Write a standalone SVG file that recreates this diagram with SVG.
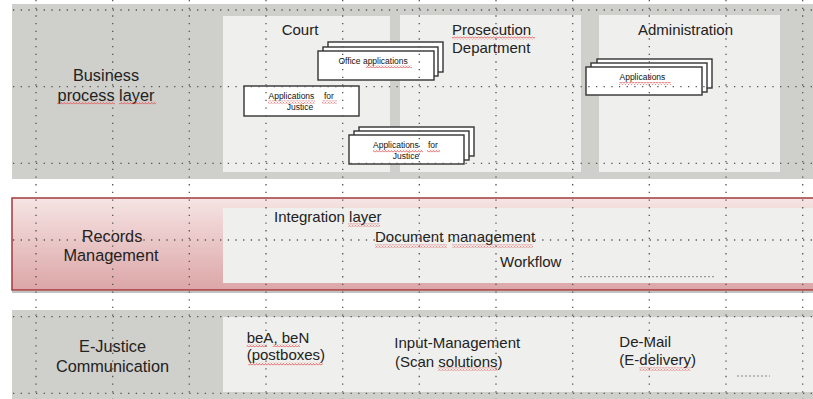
<svg xmlns="http://www.w3.org/2000/svg" width="813" height="399" viewBox="0 0 813 399">
<style>
.band{fill:#cfcfcb}
.panel{fill:#efefed}
.lbl{font-family:"Liberation Sans",Arial,sans-serif;font-size:16.3px;fill:#222;text-anchor:middle}
.t{font-family:"Liberation Sans",Arial,sans-serif;font-size:15px;fill:#222}
.s{font-family:"Liberation Sans",Arial,sans-serif;font-size:8.5px;fill:#111}
.box{fill:#fff;stroke:#333;stroke-width:1.4}
.grid{stroke:#555;stroke-width:1.3;stroke-dasharray:1.3 6.37;fill:none}
.wavy{fill:url(#wv)}
.dots{stroke:#888;stroke-width:1;stroke-dasharray:2 2;fill:none}
</style>
<defs>
<pattern id="wv" width="3" height="3" patternUnits="userSpaceOnUse">
<path d="M0 2.5 L1.5 0.5 L3 2.5" stroke="#e04848" stroke-width="0.8" fill="none"/>
</pattern>
<linearGradient id="redg" x1="0" y1="0" x2="0" y2="1">
<stop offset="0" stop-color="#f6e4e4"/>
<stop offset="1" stop-color="#dca6a7"/>
</linearGradient>
</defs>
<rect width="813" height="399" fill="#fff"/>

<g id="business-layer">
<rect class="band" x="12" y="4" width="801" height="175"/>
<text class="lbl" x="106" y="81">Business</text>
<text class="lbl" x="106" y="101">process layer</text>
<rect class="wavy" x="57" y="101.5" width="58" height="3"/>
<rect class="wavy" x="119" y="101.5" width="37" height="3"/>
</g>

<g id="court">
<rect class="panel" x="223" y="16" width="167" height="156"/>
<text class="t" x="300" y="35" text-anchor="middle">Court</text>
</g>

<g id="prosecution">
<rect class="panel" x="400" y="15" width="181" height="157"/>
<text class="t" x="452" y="35">Prosecution</text>
<text class="t" x="452" y="53">Department</text>
<rect class="wavy" x="452" y="36.5" width="83" height="3"/>
</g>

<g id="administration">
<rect class="panel" x="599" y="15" width="181" height="157"/>
<text class="t" x="685.5" y="35" text-anchor="middle">Administration</text>
</g>

<g id="office-applications">
<rect class="box" x="328" y="42" width="115" height="30"/>
<rect class="box" x="323" y="47" width="115" height="29"/>
<rect class="box" x="318" y="51" width="116" height="29"/>
<text class="s" x="338.5" y="64">Office applications</text>
<rect class="wavy" x="366" y="65" width="46" height="3"/>
</g>

<g id="applications-for-justice-1">
<rect class="box" x="244" y="86" width="115" height="30"/>
<text class="s" x="268.5" y="99">Applications</text>
<text class="s" x="324" y="99">for</text>
<text class="s" x="300" y="109.7" text-anchor="middle">Justice</text>
<rect class="wavy" x="268" y="100.5" width="47" height="3"/>
<rect class="wavy" x="322" y="100.5" width="15" height="3"/>
</g>

<g id="applications-for-justice-2">
<rect class="box" x="359" y="127" width="115" height="29"/>
<rect class="box" x="354" y="131" width="115" height="29"/>
<rect class="box" x="349" y="135" width="115" height="29"/>
<text class="s" x="373" y="148">Applications</text>
<text class="s" x="428" y="148">for</text>
<text class="s" x="406" y="158.7" text-anchor="middle">Justice</text>
<rect class="wavy" x="373" y="149.5" width="50" height="3"/>
<rect class="wavy" x="427" y="149.5" width="13" height="3"/>
</g>

<g id="admin-applications">
<rect class="box" x="597" y="59" width="115" height="29"/>
<rect class="box" x="591" y="63" width="116" height="29"/>
<rect class="box" x="586" y="67" width="116" height="28"/>
<text class="s" x="619.5" y="80">Applications</text>
<rect class="wavy" x="619" y="82" width="52" height="3"/>
</g>

<g id="records-management">
<rect x="12" y="291" width="801" height="2" fill="#999" opacity="0.6"/>
<rect x="12" y="198" width="810" height="92" fill="url(#redg)" stroke="#a33a3e" stroke-width="1.5"/>
<rect class="panel" x="223" y="208" width="590" height="75"/>
<text class="lbl" x="112" y="241.5">Records</text>
<text class="lbl" x="111" y="261">Management</text>
<text class="t" x="274" y="221.7">Integration layer</text>
<rect class="wavy" x="348" y="223.5" width="32" height="3"/>
<text class="t" x="375" y="242">Document management</text>
<rect class="wavy" x="375" y="244.5" width="72" height="3"/>
<rect class="wavy" x="452" y="244.5" width="81" height="3"/>
<text class="t" x="500" y="266.7">Workflow</text>
<line class="dots" x1="580" y1="276.7" x2="714" y2="276.7"/>
</g>

<g id="ejustice-communication">
<rect class="band" x="12" y="310" width="801" height="89"/>
<rect class="panel" x="223" y="317" width="590" height="75"/>
<text class="lbl" x="112.5" y="352.3">E-Justice</text>
<text class="lbl" x="112.5" y="372">Communication</text>
<text class="t" x="246.7" y="342.7">beA, beN</text>
<text class="t" x="246.7" y="360">(postboxes)</text>
<rect class="wavy" x="246.7" y="344" width="20" height="3"/>
<rect class="wavy" x="272.7" y="344" width="27.3" height="3"/>
<rect class="wavy" x="248.3" y="362.5" width="74.4" height="3"/>
<text class="t" x="394.3" y="348.3">Input-Management</text>
<text class="t" x="395" y="366.5">(Scan solutions)</text>
<rect class="wavy" x="437.7" y="367.5" width="60" height="3"/>
<text class="t" x="619.3" y="346.7">De-Mail</text>
<text class="t" x="619.3" y="365">(E-delivery)</text>
<rect class="wavy" x="639.3" y="367.5" width="51.4" height="3"/>
<line class="dots" x1="737" y1="376" x2="770" y2="376"/>
</g>

<g id="connectors"></g>

<g id="grid">
<path class="grid" d="M36 0V399M112.7 0V399M189.3 0V399M266 0V399M342.7 0V399M419.3 0V399M496 0V399M572.7 0V399M649.3 0V399M726 0V399M802.7 0V399"/>
<path class="grid" d="M13 10H813M13 86.7H813M13 163.3H813M13 240H813M13 316.7H813M13 393.3H813"/>
</g>
</svg>
